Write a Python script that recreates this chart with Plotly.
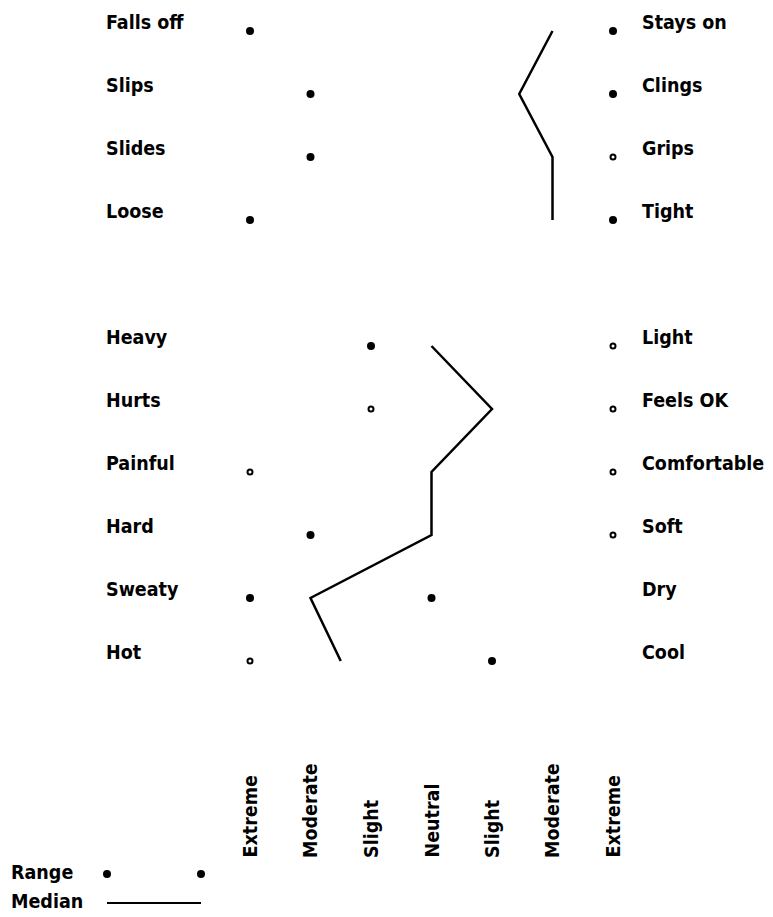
import plotly.graph_objects as go

# ---- data ----
scale_labels = ["Extreme", "Moderate", "Slight", "Neutral", "Slight", "Moderate", "Extreme"]
scale_values = [-3, -2, -1, 0, 1, 2, 3]

top_left = ["Falls off", "Slips", "Slides", "Loose"]
top_right = ["Stays on", "Clings", "Grips", "Tight"]
top_low = [-3, -2, -2, -3]
top_high = [3, 3, 3, 3]
top_median = [2, 1.45, 2, 2]

bot_left = ["Heavy", "Hurts", "Painful", "Hard", "Sweaty", "Hot"]
bot_right = ["Light", "Feels OK", "Comfortable", "Soft", "Dry", "Cool"]
bot_low = [-1, -1, -3, -2, -3, -3]
bot_high = [3, 3, 3, 3, 0, 1]
bot_median = [0, 1, 0, 0, -2, -1.5]

# ---- styling config (range dots that appear as small rings in the original) ----
open_low = {"Hurts", "Painful", "Hot"}
open_high = {"Grips", "Light", "Feels OK", "Comfortable", "Soft"}

PAGE_OFF = 8                      # default body margin of the html page
W, H = 773 - PAGE_OFF, 917 - PAGE_OFF
FONT = "DejaVu Sans Condensed, DejaVu Sans, sans-serif"
FSIZE = 19.5


def px(xp):
    return (xp - PAGE_OFF) / W


def py(yp):
    return 1 - (yp - PAGE_OFF) / H


# rows: top group 0..3, one blank row, bottom group 5..10
top_rows = list(range(len(top_left)))
bot_rows = [len(top_left) + 1 + i for i in range(len(bot_left))]

rows = top_rows + bot_rows
left_labels = top_left + bot_left
right_labels = top_right + bot_right
lows = top_low + bot_low
highs = top_high + bot_high

fig = go.Figure()

# median lines (one per group)
fig.add_trace(go.Scatter(x=top_median + [None] + bot_median,
                         y=top_rows + [None] + bot_rows,
                         mode="lines", line=dict(color="black", width=2.5),
                         connectgaps=False, hoverinfo="skip", showlegend=False))

# range dots
fx, fy, ox, oy = [], [], [], []
for r, ll, rl, lo, hi in zip(rows, left_labels, right_labels, lows, highs):
    if ll in open_low:
        ox.append(lo); oy.append(r)
    else:
        fx.append(lo); fy.append(r)
    if rl in open_high:
        ox.append(hi); oy.append(r)
    else:
        fx.append(hi); fy.append(r)

fig.add_trace(go.Scatter(x=fx, y=fy, mode="markers",
                         marker=dict(color="black", size=8, symbol="circle"),
                         hoverinfo="skip", showlegend=False))
fig.add_trace(go.Scatter(x=ox, y=oy, mode="markers",
                         marker=dict(color="black", size=5, symbol="circle-open",
                                     line=dict(width=2, color="black")),
                         hoverinfo="skip", showlegend=False))

font = dict(family=FONT, size=FSIZE, color="black", weight="bold")

annotations = []
for r, ll, rl in zip(rows, left_labels, right_labels):
    annotations.append(dict(x=px(104), xref="paper", y=r, yref="y", text=ll,
                            xanchor="left", yanchor="middle", yshift=9, showarrow=False,
                            font=font))
    annotations.append(dict(x=px(640), xref="paper", y=r, yref="y", text=rl,
                            xanchor="left", yanchor="middle", yshift=9, showarrow=False,
                            font=font))

for v, lab in zip(scale_values, scale_labels):
    annotations.append(dict(x=v, xref="x", y=py(860), yref="paper", text=lab,
                            textangle=-90, xanchor="center", yanchor="bottom",
                            showarrow=False, font=font))

# legend key
annotations.append(dict(x=px(9), xref="paper", y=py(872), yref="paper", text="Range",
                        xanchor="left", yanchor="middle", showarrow=False, font=font))
annotations.append(dict(x=px(9), xref="paper", y=py(901), yref="paper", text="Median",
                        xanchor="left", yanchor="middle", showarrow=False, font=font))

shapes = []
for cx in (107, 201):
    shapes.append(dict(type="circle", xref="paper", yref="paper",
                       x0=px(cx - 4), x1=px(cx + 4),
                       y0=py(874 + 4), y1=py(874 - 4),
                       fillcolor="black", line=dict(width=0)))
shapes.append(dict(type="line", xref="paper", yref="paper",
                   x0=px(107), x1=px(201), y0=py(903), y1=py(903),
                   line=dict(color="black", width=2)))

# axes: 60.5 px per scale step, Extreme(left) at page x=250; rows 63 px apart, first at page y=31
px_per_unit = 60.5
x0 = -3 - (250 - PAGE_OFF) / px_per_unit
x1 = x0 + W / px_per_unit
row_px = 63.0
y_top = -(31 - PAGE_OFF) / row_px
y_bot = y_top + H / row_px

fig.update_layout(
    width=W, height=H,
    margin=dict(l=0, r=0, t=0, b=0),
    paper_bgcolor="white", plot_bgcolor="white",
    xaxis=dict(range=[x0, x1], visible=False, fixedrange=True),
    yaxis=dict(range=[y_bot, y_top], visible=False, fixedrange=True),
    annotations=annotations, shapes=shapes,
    showlegend=False,
)

fig.write_html("out.html")
